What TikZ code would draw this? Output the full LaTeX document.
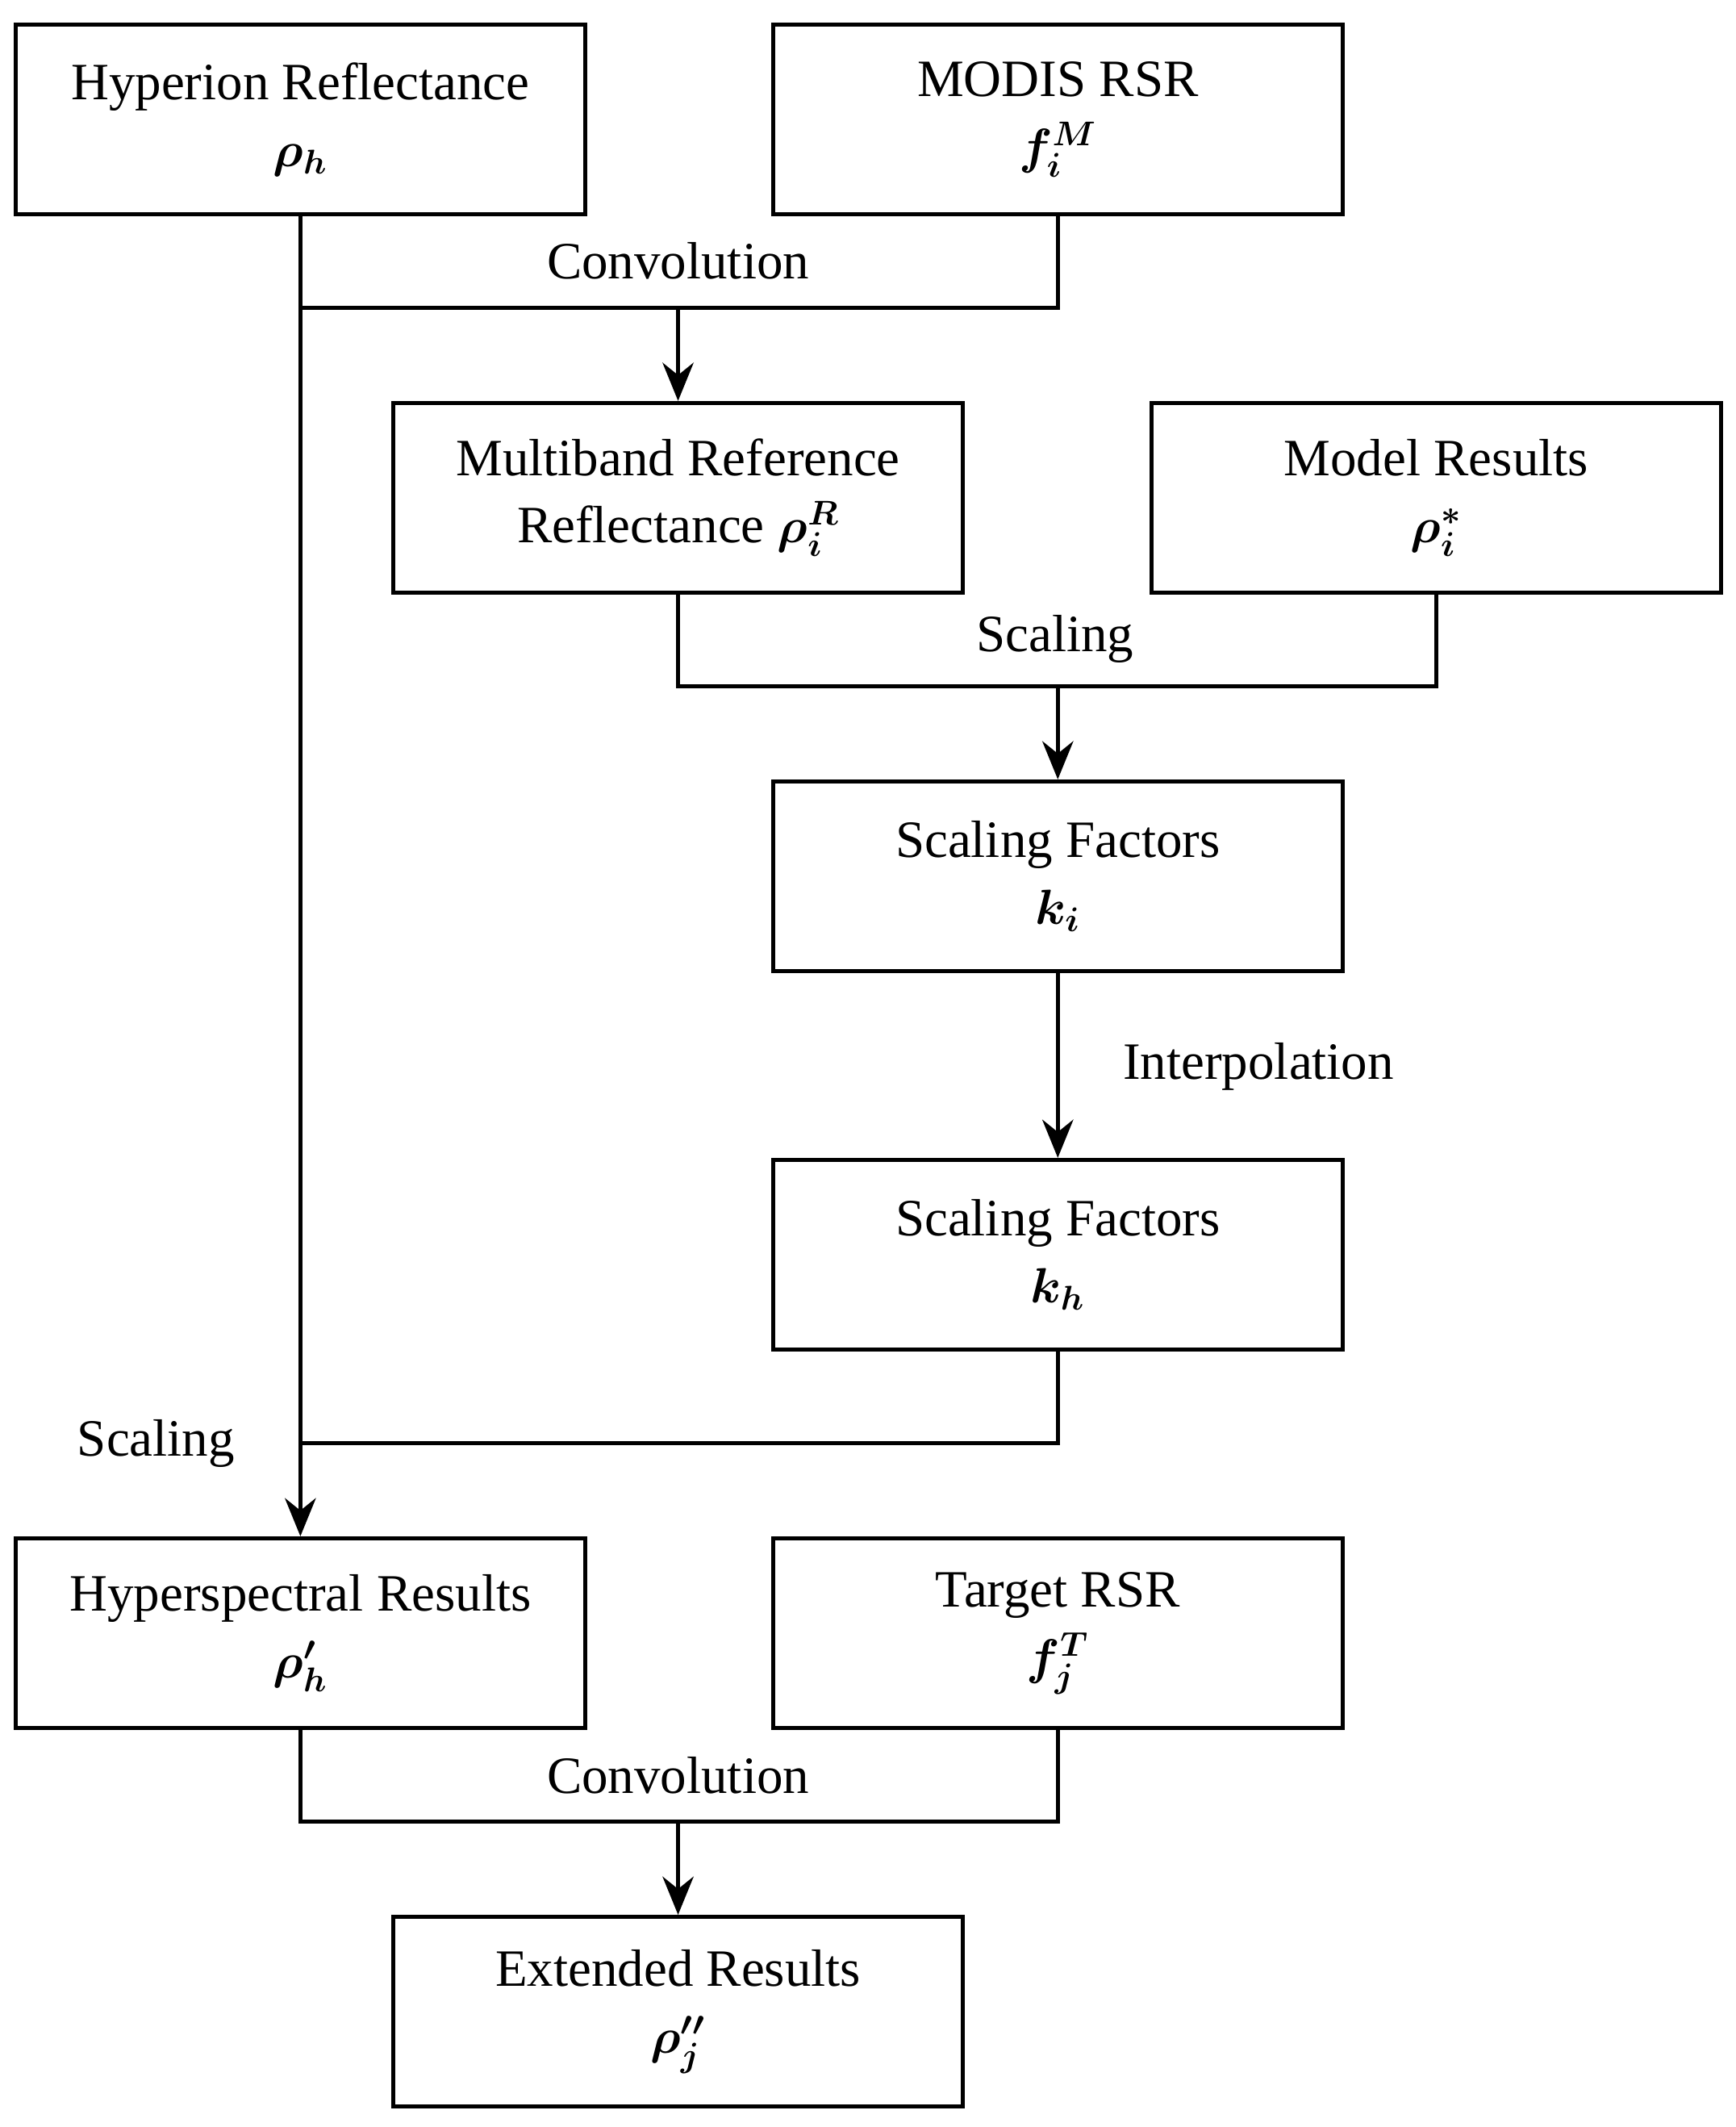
\documentclass[tikz,border=0pt]{standalone}
\usepackage{amsmath,bm}
\usepackage{fontspec}
\setmainfont{Liberation Serif}
\usetikzlibrary{arrows.meta}
\begin{document}
\begin{tikzpicture}[x=0.02cm,y=-0.02cm,
  box/.style={draw,line width=1.7pt,minimum width=8.4cm,minimum height=2.8cm,align=center,
    font=\fontsize{22}{28}\selectfont,inner sep=0pt},
  lbl/.style={font=\fontsize{22}{28}\selectfont},
  ln/.style={line width=1.7pt},
  arr/.style={ln,-{Stealth[length=16pt,width=13pt]}}]
\useasboundingbox (0,0) rectangle (1280,1568);
\node[box] (hyp) at (221.5,88) {Hyperion Reflectance\\$\bm{\rho_h}$};
\node[box] (modis) at (780,88) {MODIS RSR\\$\bm{f_i^M}$};
\node[box] (multi) at (500,367) {Multiband Reference\\Reflectance $\bm{\rho_i^R}$};
\node[box] (model) at (1059,367) {Model Results\\$\bm{\rho_i^*}$};
\node[box] (sf1) at (780,646) {Scaling Factors\\$\bm{k_i}$};
\node[box] (sf2) at (780,925) {Scaling Factors\\$\bm{k_h}$};
\node[box] (hres) at (221.5,1204) {Hyperspectral Results\\$\bm{\rho_h'}$};
\node[box] (target) at (780,1204) {Target RSR\\$\bm{f_j^T}$};
\node[box] (ext) at (500,1483) {Extended Results\\$\bm{\rho_j''}$};
\coordinate (j1) at (221.5,227);
\coordinate (j2) at (500,227);
\coordinate (j3) at (780,506);
\coordinate (j4) at (221.5,1064);
\coordinate (j5) at (500,1343);
\draw[ln] (hyp.south) -- (j1) -| (modis.south);
\draw[arr] (j2) -- (multi.north);
\draw[arr] (hyp.south) -- (hres.north);
\draw[ln] (multi.south) |- (j3) -| (model.south);
\draw[arr] (j3) -- (sf1.north);
\draw[arr] (sf1.south) -- (sf2.north);
\draw[ln] (j4) -| (sf2.south);
\draw[ln] (hres.south) |- (j5) -| (target.south);
\draw[arr] (j5) -- (ext.north);
\node[lbl] (l1) at (500,192) {Convolution};
\node[lbl] (l2) at (778,471) {Scaling};
\node[lbl] (l3) at (928,786) {Interpolation};
\node[lbl] (l4) at (115,1064) {Scaling};
\node[lbl] (l5) at (500,1309) {Convolution};
\end{tikzpicture}
\end{document}
